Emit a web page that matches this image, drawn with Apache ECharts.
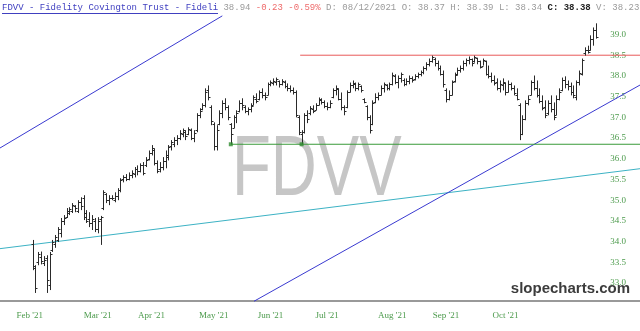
<!DOCTYPE html>
<html><head><meta charset="utf-8">
<script src="https://cdn.jsdelivr.net/npm/echarts@6/dist/echarts.min.js"></script>
<style>html,body{margin:0;padding:0;background:#fff}#c{width:640px;height:331px}</style>
</head><body><div id="c"></div>
<script>
// ---- data ----
const dayCount = 226;                       // trading-day slots on the x axis
const monthLabels = ["Feb '21","Mar '21","Apr '21","May '21","Jun '21","Jul '21","Aug '21","Sep '21","Oct '21"];
const monthStartDay = [10,34,53,75,95,115,138,157,178];
const firstBarDay = 11;
const opens = [33.95,33.40,33.50,33.62,33.48,33.60,32.95,33.80,33.95,34.05,34.20,34.50,34.60,34.70,34.75,34.85,34.75,34.95,35.05,34.70,
34.55,34.45,34.50,34.30,34.55,34.80,35.15,35.00,35.05,35.00,35.10,35.25,35.50,35.55,35.50,35.60,35.62,35.75,35.70,35.85,
35.85,36.00,36.15,36.20,35.90,35.75,35.80,35.95,36.05,36.30,36.35,36.45,36.50,36.60,36.65,36.60,36.70,36.50,36.70,37.05,
37.20,37.30,37.65,37.25,36.85,36.30,36.85,37.10,37.35,37.25,36.85,36.75,37.00,37.15,37.35,37.25,37.15,37.20,37.30,37.45,
37.45,37.60,37.55,37.55,37.80,37.82,37.85,37.88,37.80,37.85,37.75,37.70,37.65,37.60,37.00,36.60,36.65,37.05,37.10,37.20,
37.18,37.30,37.42,37.38,37.28,37.25,37.50,37.65,37.68,37.45,37.25,37.25,37.62,37.78,37.80,37.70,37.75,37.45,37.28,37.00,
36.85,37.38,37.50,37.55,37.70,37.78,37.70,37.80,38.00,37.85,37.95,37.90,37.80,37.88,37.95,37.92,38.00,38.05,38.10,38.18,
38.28,38.35,38.42,38.30,38.20,38.05,37.65,37.45,37.55,37.88,38.05,38.15,38.20,38.30,38.38,38.40,38.35,38.43,38.35,38.25,
38.35,38.05,38.00,37.90,37.85,37.70,37.78,37.82,37.62,37.80,37.72,37.55,37.30,36.60,36.95,37.35,37.55,37.85,37.70,37.55,
37.40,37.25,37.10,37.35,37.20,37.05,37.45,37.65,37.90,37.80,37.75,37.60,37.50,37.85,38.05,38.55,38.62,38.62,38.90,39.10];
const highs = [34.04,33.43,33.75,33.76,33.65,33.67,33.75,34.04,34.16,34.35,34.57,34.64,34.81,34.83,34.93,34.88,35.00,35.07,35.12,34.76,
34.71,34.64,34.57,34.59,34.62,35.24,35.17,35.12,35.12,35.19,35.29,35.53,35.60,35.63,35.67,35.72,35.80,35.84,35.89,35.92,
36.04,36.20,36.33,36.25,35.96,35.92,36.04,36.20,36.33,36.45,36.52,36.57,36.69,36.73,36.69,36.76,36.73,36.69,37.10,37.22,
37.34,37.70,37.77,37.29,36.88,36.81,37.17,37.41,37.46,37.29,36.86,37.05,37.17,37.41,37.46,37.29,37.24,37.34,37.53,37.58,
37.65,37.70,37.60,37.84,37.89,37.94,37.96,37.89,37.92,37.89,37.82,37.77,37.72,37.65,37.05,36.69,37.10,37.17,37.27,37.29,
37.34,37.48,37.46,37.41,37.36,37.41,37.70,37.77,37.70,37.60,37.29,37.65,37.84,37.89,37.84,37.84,37.77,37.46,37.29,37.05,
37.41,37.58,37.60,37.77,37.84,37.80,37.84,38.08,38.04,38.01,38.08,37.94,37.94,38.01,37.99,38.04,38.08,38.13,38.23,38.33,
38.42,38.49,38.44,38.37,38.25,38.13,37.70,37.65,37.89,38.08,38.20,38.25,38.37,38.42,38.47,38.42,38.49,38.44,38.37,38.42,
38.37,38.25,38.08,38.01,37.94,37.89,37.94,37.84,37.89,37.84,37.77,37.70,37.34,37.05,37.41,37.53,37.89,38.01,37.89,37.70,
37.53,37.41,37.41,37.53,37.36,37.53,37.70,37.96,37.99,37.89,37.84,37.77,37.89,38.13,38.42,38.69,38.73,38.98,39.17,39.27];
const lows = [33.31,32.76,33.43,33.45,33.41,32.76,32.83,33.75,33.85,33.99,34.10,34.40,34.57,34.64,34.69,34.71,34.69,34.76,34.52,34.45,
34.35,34.28,34.23,34.20,33.92,34.76,34.93,34.88,35.00,34.95,35.00,35.19,35.43,35.46,35.48,35.53,35.55,35.60,35.67,35.60,
35.80,35.96,36.08,35.84,35.65,35.67,35.72,35.77,35.96,36.20,36.28,36.33,36.45,36.52,36.45,36.57,36.45,36.40,36.64,36.98,
37.17,37.24,37.41,36.81,36.20,36.20,36.81,36.98,37.17,36.93,36.35,36.74,36.86,37.12,37.17,37.10,37.05,37.12,37.29,37.34,
37.41,37.46,37.41,37.53,37.75,37.77,37.77,37.72,37.77,37.70,37.63,37.60,37.55,37.00,36.57,36.35,36.61,36.86,37.05,37.10,
37.17,37.29,37.31,37.22,37.17,37.22,37.46,37.53,37.41,37.17,37.05,37.22,37.60,37.70,37.63,37.65,37.60,37.34,36.93,36.61,
36.81,37.34,37.41,37.53,37.60,37.65,37.65,37.77,37.80,37.70,37.84,37.75,37.77,37.80,37.84,37.89,37.94,37.99,38.04,38.13,
38.23,38.32,38.23,38.13,38.01,37.72,37.36,37.41,37.53,37.84,38.01,38.08,38.13,38.23,38.28,38.23,38.32,38.28,38.18,38.25,
38.01,37.94,37.84,37.77,37.65,37.60,37.65,37.53,37.60,37.65,37.53,37.41,36.45,36.57,36.93,37.29,37.53,37.65,37.48,37.34,
37.17,36.98,37.05,37.12,36.93,37.05,37.41,37.63,37.70,37.65,37.53,37.46,37.41,37.77,38.01,38.49,38.54,38.61,38.73,38.90];
const closes = [33.36,32.88,33.70,33.52,33.55,33.07,33.70,34.00,34.12,34.30,34.50,34.58,34.75,34.78,34.88,34.80,34.95,34.85,34.60,34.50,
34.45,34.55,34.30,34.50,34.60,35.20,35.00,35.05,35.05,35.10,35.25,35.48,35.55,35.50,35.60,35.65,35.75,35.70,35.85,35.65,
35.98,36.15,36.25,35.90,35.70,35.80,35.95,36.10,36.28,36.40,36.45,36.50,36.62,36.70,36.55,36.72,36.50,36.62,37.05,37.15,
37.30,37.62,37.50,36.90,36.30,36.70,37.10,37.35,37.25,37.00,36.60,37.00,37.10,37.35,37.30,37.15,37.20,37.28,37.48,37.40,
37.60,37.55,37.50,37.80,37.85,37.88,37.92,37.80,37.88,37.75,37.70,37.65,37.60,37.05,36.65,36.65,37.05,36.95,37.22,37.15,
37.30,37.45,37.38,37.28,37.25,37.35,37.65,37.70,37.45,37.25,37.15,37.60,37.78,37.82,37.70,37.80,37.65,37.38,37.00,36.70,
37.35,37.50,37.55,37.72,37.80,37.70,37.80,38.02,37.85,37.95,38.05,37.80,37.88,37.95,37.90,38.00,38.05,38.10,38.20,38.28,
38.35,38.45,38.30,38.18,38.05,37.80,37.45,37.55,37.85,38.02,38.15,38.20,38.32,38.38,38.42,38.30,38.45,38.35,38.22,38.38,
38.05,38.00,37.90,37.82,37.70,37.80,37.85,37.60,37.80,37.70,37.58,37.45,36.60,36.95,37.35,37.45,37.85,37.70,37.55,37.40,
37.22,37.05,37.35,37.20,37.00,37.45,37.60,37.90,37.80,37.75,37.60,37.55,37.85,38.08,38.38,38.62,38.58,38.90,39.10,38.94];
const yTickMin = 32.5, yTickMax = 39.5, yTickStep = 0.5;
const upperChannel = [[-0.5,36.26],[78,39.45]];
const lowerChannel = [[89.2,32.56],[225.5,37.78]];
const cyanTrend = [[-0.5,33.83],[225.5,35.76]];
const resistance = [[105.5,38.5],[225.5,38.5]];
const support = [[81,36.35],[225.5,36.35]];
const supportPivots = [[81,36.35],[106,36.35]];
const headerName = "FDVV - Fidelity Covington Trust - Fideli";
const headerLast = "38.94", headerChg = "-0.23 -0.59%";
const headerInfo = "D: 08/12/2021 O: 38.37 H: 38.39 L: 38.34", headerClose = "C: 38.38", headerTail = "V: 38.23";
const symbolText = "FDVV", siteText = "slopecharts.com";

// ---- build ----
const days = [];
for (let i = 0; i < dayCount; i++) {
  const k = monthStartDay.indexOf(i);
  days.push(k >= 0 ? monthLabels[k] : '');
}
const bars = opens.map((o, k) => [firstBarDay + k, o, closes[k], lows[k], highs[k]]);

const chart = echarts.init(document.getElementById('c'), null, {renderer: 'canvas'});
const green = '#4b9a4b';
chart.setOption({
  animation: false,
  backgroundColor: '#fff',
  title: {
    left: 2, top: 2, padding: 0,
    text: '{t|' + headerName + '} {g|' + headerLast + '} {r|' + headerChg + '} {g|' + headerInfo + '} {b|' + headerClose + '} {g|' + headerTail + '}',
    textStyle: {
      fontFamily: 'Liberation Mono', fontSize: 9, fontWeight: 'normal', color: '#999', lineHeight: 11,
      rich: {
        t: {fontFamily: 'Liberation Mono', fontSize: 9, color: '#4040c0', lineHeight: 11},
        g: {fontFamily: 'Liberation Mono', fontSize: 9, color: '#9a9a9a', lineHeight: 11},
        r: {fontFamily: 'Liberation Mono', fontSize: 9, color: '#ee6a6a', lineHeight: 11},
        b: {fontFamily: 'Liberation Mono', fontSize: 9, color: '#222', fontWeight: 'bold', lineHeight: 11}
      }
    }
  },
  graphic: [
    {type: 'line', z: 10, shape: {x1: 2, y1: 13.5, x2: 218, y2: 13.5}, style: {stroke: '#4040c0', lineWidth: 1}},
    {type: 'text', z: 0, left: 232, top: 128, scaleX: 0.74,
     style: {text: symbolText, font: '86px "Liberation Sans"', fill: '#c6c6c6'}},
    {type: 'text', z: 0, right: 10, top: 281,
     style: {text: siteText, font: 'bold 15px "Liberation Sans"', fill: '#3c3c3c'}}
  ],
  grid: {left: 0, right: 0, top: 13.79, bottom: 27.27},
  xAxis: [
    {type: 'category', data: days, boundaryGap: true, offset: -3,
     axisLine: {lineStyle: {color: '#777', width: 1.5}},
     axisTick: {show: false},
     axisLabel: {interval: (i, v) => v !== '', color: green, fontFamily: 'Liberation Serif', fontSize: 9, margin: 10},
     splitLine: {show: false}},
    {type: 'value', min: -0.5, max: dayCount - 0.5, show: false}
  ],
  yAxis: {
    type: 'value', position: 'right', min: yTickMin, max: yTickMax, interval: yTickStep,
    axisLine: {show: false}, axisTick: {show: false}, splitLine: {show: false},
    axisLabel: {inside: true, margin: 14, color: green, fontFamily: 'Liberation Serif', fontSize: 9,
      showMinLabel: false, showMaxLabel: false, formatter: v => v.toFixed(1)}
  },
  series: [
    {type: 'line', xAxisIndex: 1, data: cyanTrend, symbol: 'none', z: 3, lineStyle: {color: '#3cb2c4', width: 1}},
    {type: 'line', xAxisIndex: 1, data: upperChannel, symbol: 'none', z: 3, lineStyle: {color: '#3a3ad0', width: 1}},
    {type: 'line', xAxisIndex: 1, data: lowerChannel, symbol: 'none', z: 3, lineStyle: {color: '#3a3ad0', width: 1}},
    {type: 'line', xAxisIndex: 1, data: resistance, symbol: 'none', z: 3, lineStyle: {color: '#e85a5a', width: 1}},
    {type: 'line', xAxisIndex: 1, data: support, symbol: 'none', z: 3, lineStyle: {color: '#3a9a3a', width: 1}},
    {type: 'scatter', xAxisIndex: 1, data: supportPivots, symbol: 'rect', symbolSize: 4, z: 6, itemStyle: {color: '#2e8b2e'}},
    {type: 'custom', xAxisIndex: 0, data: bars, z: 5, encode: {x: 0, y: [1, 2, 3, 4]},
     renderItem: function (params, api) {
       const i = api.value(0);
       const pO = api.coord([i, api.value(1)]);
       const pC = api.coord([i, api.value(2)]);
       const pL = api.coord([i, api.value(3)]);
       const pH = api.coord([i, api.value(4)]);
       const x = Math.round(pL[0]) + 0.5;
       const yo = Math.round(pO[1]) + 0.5, yc = Math.round(pC[1]) + 0.5;
       const st = {stroke: '#2a2a2a', lineWidth: 1};
       return {type: 'group', children: [
         {type: 'line', shape: {x1: x, y1: pH[1], x2: x, y2: pL[1]}, style: st},
         {type: 'line', shape: {x1: x - 2, y1: yo, x2: x, y2: yo}, style: st},
         {type: 'line', shape: {x1: x, y1: yc, x2: x + 2, y2: yc}, style: st}
       ]};
     }}
  ]
});
</script></body></html>
